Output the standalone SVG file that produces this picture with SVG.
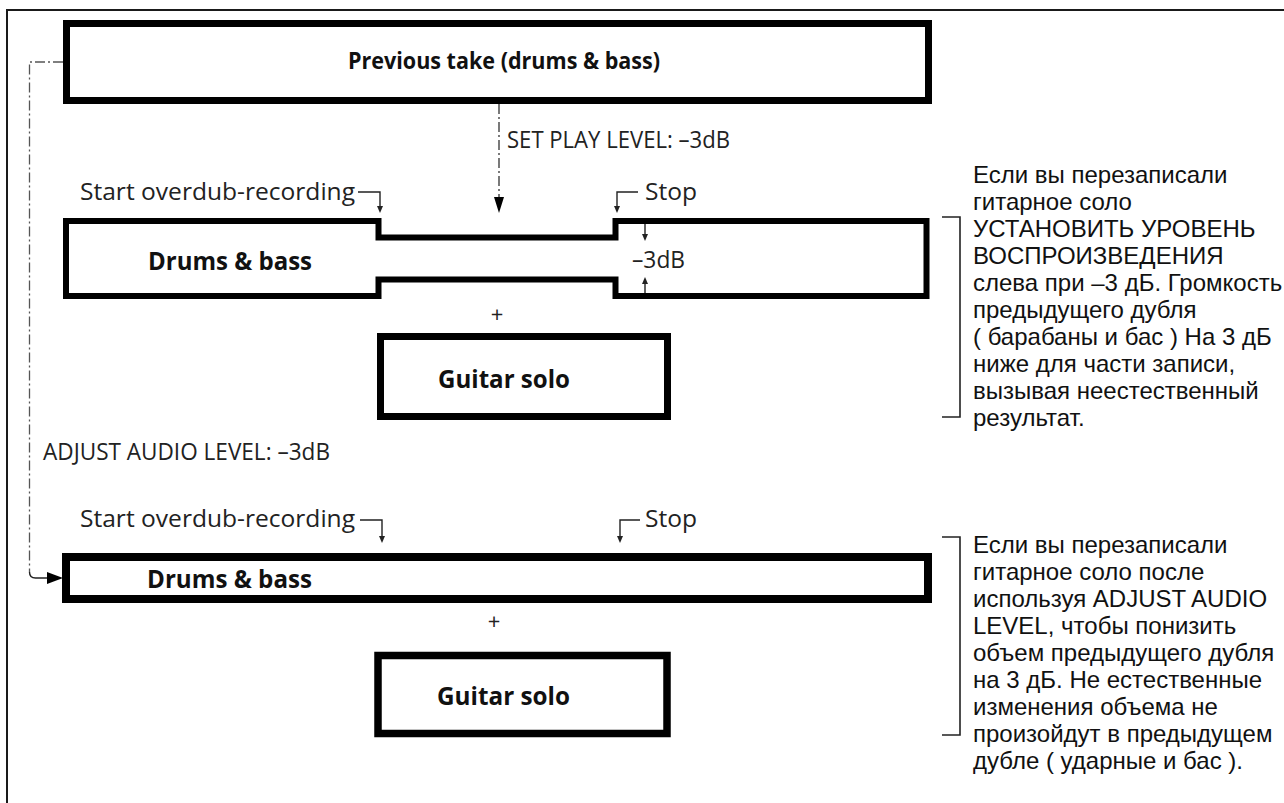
<svg xmlns="http://www.w3.org/2000/svg" width="1284" height="803" viewBox="0 0 1284 803">
  <defs>
    <style>
      .frame { fill: none; stroke: #1a1a1a; stroke-width: 2; }
      .box { fill: #ffffff; stroke: #000000; stroke-linejoin: miter; }
      .lbl { font-family: "Open Sans", "Noto Sans", "Liberation Sans", sans-serif; font-size: 23px; fill: #222222; }
      .lbl-b { font-family: "Open Sans", "Noto Sans", "Liberation Sans", sans-serif; font-size: 25px; font-weight: bold; fill: #111111; }
      .title { font-size: 24px; }
      .plus { font-size: 22px; }
      .note { font-family: "Liberation Sans", Arial, sans-serif; font-size: 24px; fill: #111111; }
      .dashdot { fill: none; stroke: #555555; stroke-width: 1.3; stroke-dasharray: 10 3 2 3; }
      .thin { fill: none; stroke: #222222; stroke-width: 1.4; }
      .brace { fill: none; stroke: #222222; stroke-width: 1.6; }
      .head { fill: #000000; }
      .small-head { fill: #222222; }
    </style>
  </defs>

  <!-- page frame -->
  <rect class="frame" x="7" y="10" width="1290" height="800"/>

  <g id="previous-take">
    <rect class="box" x="66.5" y="23.5" width="862" height="77" stroke-width="7"/>
    <text class="lbl-b title" x="348" y="69" textLength="312" lengthAdjust="spacingAndGlyphs">Previous take (drums &amp; bass)</text>
  </g>

  <text class="lbl" x="507" y="148" textLength="223" lengthAdjust="spacingAndGlyphs">SET PLAY LEVEL: –3dB</text>

  <g id="drums-bass-1">
    <text class="lbl" x="80" y="200" textLength="275" lengthAdjust="spacingAndGlyphs">Start overdub-recording</text>
    <text class="lbl" x="645" y="200" textLength="52" lengthAdjust="spacingAndGlyphs">Stop</text>
    <path class="box" stroke-width="6" d="M66,221 H378.5 V237.5 H615.5 V221 H926.5 V296 H615.5 V279.5 H378.5 V296 H66 Z"/>
    <text class="lbl-b" x="148" y="270" textLength="164" lengthAdjust="spacingAndGlyphs">Drums &amp; bass</text>
    <text class="lbl" x="632" y="268" textLength="53" lengthAdjust="spacingAndGlyphs">–3dB</text>
  </g>

  <text class="lbl plus" x="497" y="322" text-anchor="middle">+</text>

  <g id="guitar-solo-1">
    <rect class="box" x="380.5" y="336.5" width="287" height="80" stroke-width="7"/>
    <text class="lbl-b" x="438" y="388" textLength="132" lengthAdjust="spacingAndGlyphs">Guitar solo</text>
  </g>

  <g id="note-1">
    <text class="note">
      <tspan x="973" y="183">Если вы перезаписали</tspan>
      <tspan x="973" y="210">гитарное соло</tspan>
      <tspan x="973" y="237">УСТАНОВИТЬ УРОВЕНЬ</tspan>
      <tspan x="973" y="264">ВОСПРОИЗВЕДЕНИЯ</tspan>
      <tspan x="973" y="291">слева при –3 дБ. Громкость</tspan>
      <tspan x="973" y="318">предыдущего дубля</tspan>
      <tspan x="973" y="345">( барабаны и бас ) На 3 дБ</tspan>
      <tspan x="973" y="372">ниже для части записи,</tspan>
      <tspan x="973" y="399">вызывая неестественный</tspan>
      <tspan x="973" y="426">результат.</tspan>
    </text>
  </g>

  <text class="lbl" x="43" y="460" textLength="287" lengthAdjust="spacingAndGlyphs">ADJUST AUDIO LEVEL: –3dB</text>

  <g id="drums-bass-2">
    <text class="lbl" x="80" y="527" textLength="275" lengthAdjust="spacingAndGlyphs">Start overdub-recording</text>
    <text class="lbl" x="645" y="527" textLength="52" lengthAdjust="spacingAndGlyphs">Stop</text>
    <rect class="box" x="66" y="557" width="862" height="42" stroke-width="8"/>
    <text class="lbl-b" x="147" y="588" textLength="165" lengthAdjust="spacingAndGlyphs">Drums &amp; bass</text>
  </g>

  <text class="lbl plus" x="494" y="629" text-anchor="middle">+</text>

  <g id="guitar-solo-2">
    <rect class="box" x="378" y="655.5" width="289" height="78" stroke-width="7.5"/>
    <text class="lbl-b" x="437" y="705" textLength="133" lengthAdjust="spacingAndGlyphs">Guitar solo</text>
  </g>

  <g id="note-2">
    <text class="note">
      <tspan x="973" y="553">Если вы перезаписали</tspan>
      <tspan x="973" y="580">гитарное соло после</tspan>
      <tspan x="973" y="607">используя ADJUST AUDIO</tspan>
      <tspan x="973" y="634">LEVEL, чтобы понизить</tspan>
      <tspan x="973" y="661">объем предыдущего дубля</tspan>
      <tspan x="973" y="688">на 3 дБ. Не естественные</tspan>
      <tspan x="973" y="715">изменения объема не</tspan>
      <tspan x="973" y="742">произойдут в предыдущем</tspan>
      <tspan x="973" y="769">дубле ( ударные и бас ).</tspan>
    </text>
  </g>

  <!-- connectors: level routing and cue markers, drawn over the boxes -->
  <g id="connectors">
    <!-- ADJUST AUDIO LEVEL path from the previous take down to the new track -->
    <path class="dashdot" d="M63,62 H29.5 V572"/>
    <path class="thin" d="M29.5,572 Q29.5,578 35.5,578 H49"/>
    <polygon class="head" points="47,572 63,578 47,584"/>

    <!-- SET PLAY LEVEL arrow -->
    <path class="dashdot" d="M499,104 V199" style="stroke:#333333"/>
    <polygon class="head" points="494,197 504,197 499,213"/>

    <!-- start / stop cue markers, first pass -->
    <path class="thin" d="M358,192 H380 V207"/>
    <polygon class="small-head" points="377,206 383,206 380,213"/>
    <path class="thin" d="M638,192 H617 V207"/>
    <polygon class="small-head" points="614,206 620,206 617,213"/>

    <!-- -3dB level drop markers -->
    <path class="thin" d="M645,224 V235"/>
    <polygon class="small-head" points="642,234 648,234 645,241"/>
    <path class="thin" d="M645,293 V283"/>
    <polygon class="small-head" points="642,284 648,284 645,277"/>

    <!-- start / stop cue markers, second pass -->
    <path class="thin" d="M360,520 H382 V537"/>
    <polygon class="small-head" points="379,536 385,536 382,543"/>
    <path class="thin" d="M640,520 H620 V537"/>
    <polygon class="small-head" points="617,536 623,536 620,543"/>

    <!-- brackets tying the notes to each case -->
    <path class="brace" d="M942,217 H960 V417 H942"/>
    <path class="brace" d="M942,537 H960 V735 H942"/>
  </g>
</svg>
